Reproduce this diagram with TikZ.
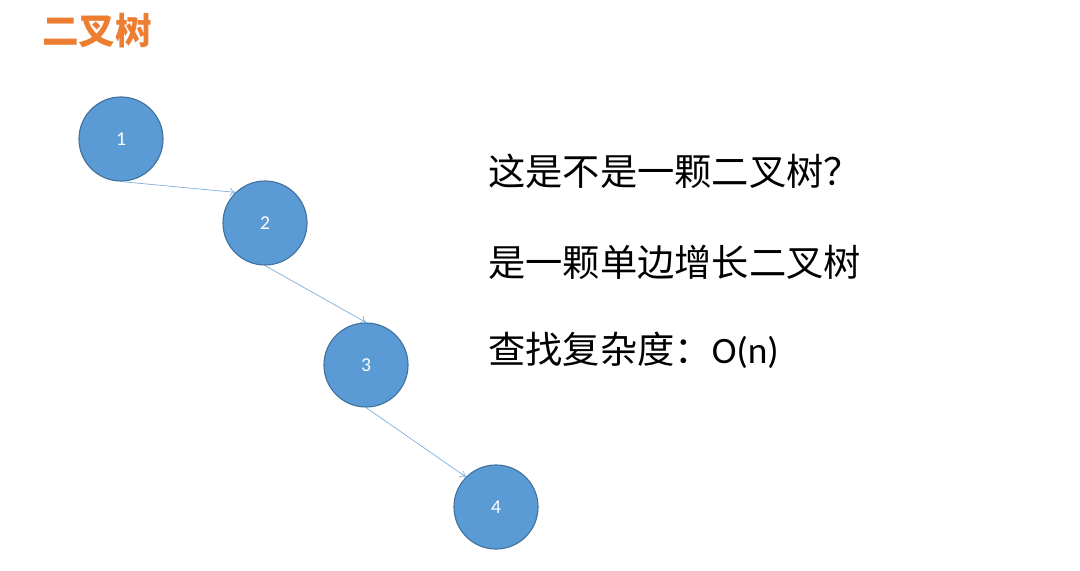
\documentclass[tikz,border=0pt]{standalone}
\usepackage{fontspec}
\setmainfont{Carlito}
\newfontfamily\cjk{Noto Sans CJK SC}
\usepackage{tikz}
\definecolor{nodeblue}{RGB}{91, 155, 213}
\definecolor{rimblue}{RGB}{65, 113, 156}
\definecolor{titleorange}{RGB}{237, 125, 49}
\usetikzlibrary{arrows.meta, positioning}

\begin{document}
\begin{tikzpicture}[x=0.025cm, y=-0.025cm,
    treenode/.style={circle, draw=rimblue, line width=0.8pt, fill=nodeblue,
                     minimum size=2.1cm, inner sep=0pt, text=white, font=\fontsize{14}{16}\selectfont},
    link/.style={-{To[length=4pt, width=6pt]}, nodeblue!80, line width=0.5pt},
    remark/.style={anchor=west, inner sep=0pt, font=\fontsize{26.5}{30}\selectfont\cjk}
]
    \useasboundingbox (0,0) rectangle (1080,571);

    \node[anchor=west, inner sep=0pt, text=titleorange, font=\fontsize{26}{30}\selectfont\bfseries\cjk] (title) at (42,31) {二叉树};

    \node[treenode] (one) at (121,139) {1};
    \node[treenode] (two) at (265,223) {2};
    \node[treenode] (three) at (366,365) {3};
    \node[treenode] (four) at (496,507) {4};

    \draw[link] (one.south) -- (two.134);
    \draw[link] (two.south) -- (three.north);
    \draw[link] (three.south) -- (four.135);

    \node[remark] (question) at (488,171) {这是不是一颗二叉树？};
    \node[remark] (answer) at (488,262) {是一颗单边增长二叉树};
    \node[remark] (cost) at (488,350) {查找复杂度：{\fontspec{Carlito}O(n)}};
\end{tikzpicture}
\end{document}
